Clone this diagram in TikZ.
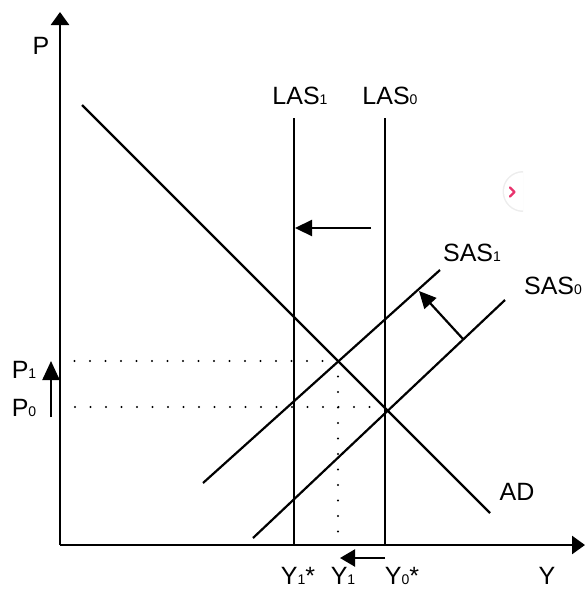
\documentclass[tikz,border=0pt]{standalone}
\usepackage{fontspec}
\setmainfont{Liberation Sans}
\usetikzlibrary{arrows.meta}
\newcommand{\sub}[1]{{\fontsize{14}{14}\selectfont #1}}
\begin{document}
\begin{tikzpicture}[x=1pt,y=-1pt,
  curve/.style={line width=2.2pt},
  axis/.style={line width=2.6pt,-{Triangle[length=13pt,width=18pt]}},
  shiftarrow/.style={line width=2.2pt,-{Triangle[length=17pt,width=16pt]}},
  dots/.style={line width=2.4pt,line cap=round,dash pattern=on 0pt off 15.5pt},
  lbl/.style={font=\fontsize{25}{28}\selectfont,inner sep=0pt},
  blbl/.style={lbl,anchor=base}]
\useasboundingbox (0,0) rectangle (585,590);
% axes
\coordinate (O) at (60,545);
\coordinate (Ptop) at (60,12);
\coordinate (Yend) at (585,545);
\draw[axis] (O) -- (Ptop);
\draw[axis] (O) -- (Yend);
\node[lbl] (P) at (41,46) {P};
\node[blbl] (Y) at (547,584) {Y};
% LAS lines
\coordinate (las1t) at (294,118); \coordinate (las1b) at (294,545);
\coordinate (las0t) at (385,118); \coordinate (las0b) at (385,545);
\draw[curve] (las1t) -- (las1b);
\draw[curve] (las0t) -- (las0b);
\node[lbl] (LAS1) at (300,96) {LAS\sub{1}};
\node[lbl] (LAS0) at (390,96) {LAS\sub{0}};
% AD
\coordinate (adt) at (82,105); \coordinate (adb) at (490,513);
\draw[curve] (adt) -- (adb);
\node[lbl] (AD) at (517,492) {AD};
% SAS
\coordinate (sas0b) at (253,538); \coordinate (sas0t) at (505,300);
\coordinate (sas1b) at (203,483); \coordinate (sas1t) at (440,270);
\draw[curve] (sas0b) -- (sas0t);
\draw[curve] (sas1b) -- (sas1t);
\node[lbl] (SAS1) at (472,253) {SAS\sub{1}};
\node[lbl] (SAS0) at (553,286) {SAS\sub{0}};
% equilibrium points
\coordinate (E1) at (338,361);
\coordinate (E0) at (385,407);
\coordinate (P1a) at (62,361);
\coordinate (P0a) at (62,407);
\coordinate (Y1a) at (338,545);
\draw[dots] (E1) -- (P1a);
\draw[dots] (E0) -- (P0a);
\draw[dots] (E1) -- (Y1a);
\node[lbl] (P1) at (24,370) {P\sub{1}};
\node[lbl] (P0) at (24,408) {P\sub{0}};
\node[blbl] (Y1s) at (298,584) {Y\sub{1}*};
\node[blbl] (Y1) at (343,584) {Y\sub{1}};
\node[blbl] (Y0s) at (402,584) {Y\sub{0}*};
% shift arrows
\coordinate (a1s) at (371,228); \coordinate (a1e) at (295,228);
\draw[shiftarrow] (a1s) -- (a1e);
\coordinate (a2s) at (463,339); \coordinate (a2e) at (419,291);
\draw[shiftarrow] (a2s) -- (a2e);
\coordinate (a3s) at (385,558); \coordinate (a3e) at (340,558);
\draw[line width=2.2pt,-{Triangle[length=15pt,width=17pt]}] (a3s) -- (a3e);
\coordinate (a4s) at (51,417); \coordinate (a4e) at (51,361);
\draw[line width=2.2pt,-{Triangle[length=19pt,width=17pt]}] (a4s) -- (a4e);
% side button
\fill[black!7] (523,212) arc (90:270:20.5) -- cycle;
\fill[white] (523,210.5) arc (90:270:19) -- cycle;
\draw[line width=2.4pt,color={rgb,255:red,232;green,51;blue,109},line cap=round,line join=round] (510,187.5) -- (514.5,192) -- (510,196.5);
\end{tikzpicture}
\end{document}
